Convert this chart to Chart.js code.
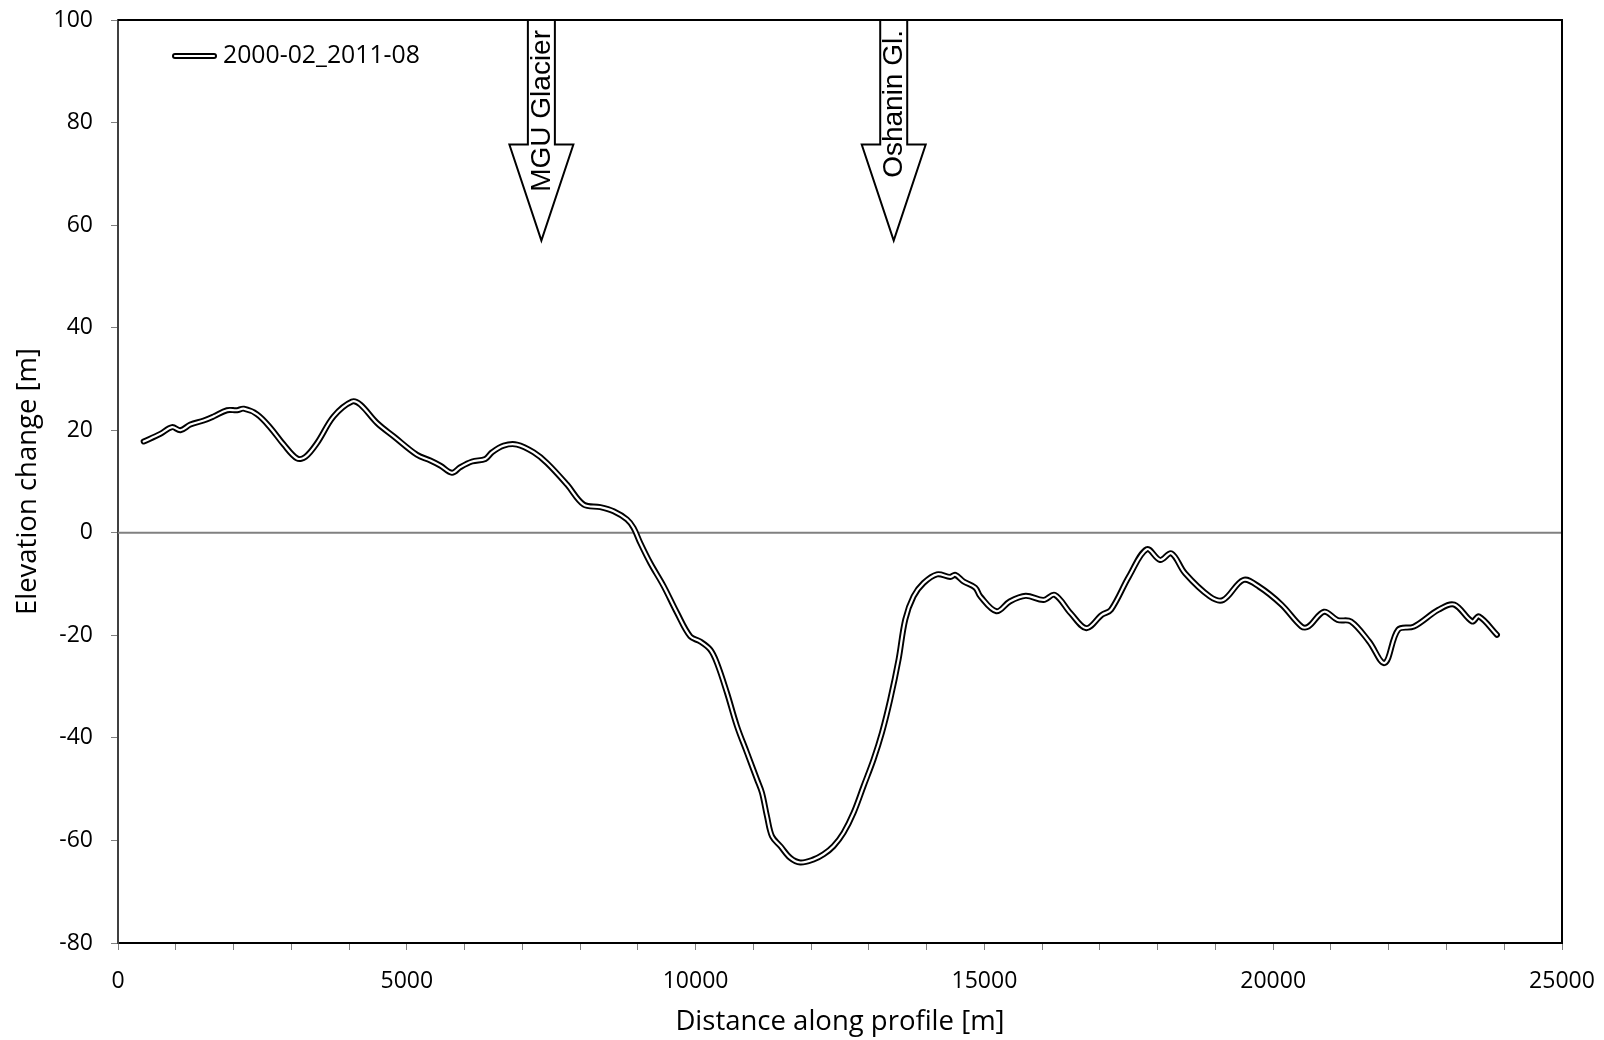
<!DOCTYPE html>
<html>
<head>
<meta charset="utf-8">
<script src="https://cdn.jsdelivr.net/npm/chart.js@4.4.1/dist/chart.umd.min.js"></script>
<style>
  html, body { margin: 0; padding: 0; background: #ffffff; }
  #wrap { width: 1604px; height: 1040px; position: relative; }
</style>
</head>
<body>
<div id="wrap"><canvas id="profile" width="1604" height="1040"></canvas></div>
<script>
// Elevation change along the profile (distance in metres, change in metres)
const distance = [
  445, 734, 936, 1080, 1253, 1484, 1657, 1888, 2062, 2176,
  2408, 2638, 2869, 3100, 3244, 3446, 3734, 4052, 4196, 4485,
  4773, 5177, 5408, 5581, 5783, 5927, 6130, 6360, 6476, 6677,
  6908, 7196, 7428, 7774, 8062, 8350, 8581, 8812, 8927, 9043,
  9216, 9447, 9678, 9908, 10081, 10254, 10370, 10543, 10716, 10890,
  11063, 11149, 11236, 11323, 11467, 11640, 11813, 12043, 12216, 12389,
  12562, 12735, 12908, 13081, 13226, 13370, 13514, 13630, 13774, 13947,
  14179, 14409, 14496, 14640, 14842, 14929, 15209, 15439, 15715, 16023,
  16218, 16493, 16765, 17033, 17192, 17504, 17812, 18042, 18237, 18474,
  18901, 19133, 19483, 19754, 20143, 20492, 20609, 20880, 21114, 21346,
  21659, 21930, 22164, 22434, 22863, 23134, 23445, 23562, 23874
];
const elevationChange = [
  17.8, 19.3, 20.6, 20.0, 21.1, 21.9, 22.7, 23.9, 23.9, 24.2,
  23.1, 20.5, 17.2, 14.5, 14.8, 17.5, 22.7, 25.6, 25.0, 21.4,
  18.8, 15.2, 14.1, 13.1, 11.7, 12.8, 13.9, 14.4, 15.7, 17.0,
  17.2, 15.7, 13.6, 9.4, 5.5, 5.0, 4.2, 2.6, 0.95, -2.0,
  -5.9, -10.4, -15.6, -20.2, -21.2, -22.8, -25.4, -31.2, -37.7, -42.9,
  -48.1, -50.7, -55.3, -59.2, -61.1, -63.4, -64.3, -63.7, -62.7, -61.1,
  -58.5, -54.6, -49.4, -44.2, -39.0, -32.5, -24.7, -16.9, -12.4, -9.8,
  -8.1, -8.6, -8.2, -9.5, -10.7, -12.4, -15.3, -13.4, -12.3, -13.1,
  -12.1, -15.7, -18.6, -16.0, -15.0, -8.5, -3.2, -5.3, -4.0, -7.9,
  -12.4, -13.1, -9.2, -10.5, -14.0, -18.3, -18.3, -15.4, -17.0, -17.3,
  -21.2, -25.4, -18.9, -18.3, -15.0, -14.0, -17.3, -16.3, -19.9
];
const seriesLabel = '2000-02_2011-08';

// Glaciers crossed by the profile
const glacierNames = ['MGU Glacier', 'Oshanin Gl.'];
const glacierDistance = [7330, 13430];
const glacierArrowTip = [57, 57];

// Axis ticks
const xTickValues = [0, 5000, 10000, 15000, 20000, 25000];
const yTickValues = [-80, -60, -40, -20, 0, 20, 40, 60, 80, 100];

const points = distance.map((d, i) => ({ x: d, y: elevationChange[i] }));
const FONT = '"Open Sans", Lato, sans-serif';

// Plot frame, zero line and legend entry
const framePlugin = {
  id: 'frame',
  beforeDatasetsDraw(chart) {
    const { ctx, chartArea: a, scales: { y } } = chart;
    ctx.save();
    const y0 = y.getPixelForValue(0);
    ctx.strokeStyle = '#808080';
    ctx.lineWidth = 2;
    ctx.beginPath();
    ctx.moveTo(a.left, y0);
    ctx.lineTo(a.right, y0);
    ctx.stroke();
    ctx.restore();
  },
  afterDraw(chart) {
    const { ctx, chartArea: a } = chart;
    ctx.save();
    ctx.strokeStyle = '#000000';
    ctx.lineWidth = 2;
    ctx.beginPath();
    ctx.moveTo(a.left, a.top);
    ctx.lineTo(a.right, a.top);
    ctx.lineTo(a.right, a.bottom);
    ctx.stroke();

    // legend: double line + label
    const lx0 = a.left + 57, lx1 = a.left + 96, ly = a.top + 36;
    ctx.lineCap = 'round';
    ctx.strokeStyle = '#000000';
    ctx.lineWidth = 6;
    ctx.beginPath(); ctx.moveTo(lx0, ly); ctx.lineTo(lx1, ly); ctx.stroke();
    ctx.strokeStyle = '#ffffff';
    ctx.lineWidth = 2.2;
    ctx.beginPath(); ctx.moveTo(lx0, ly); ctx.lineTo(lx1, ly); ctx.stroke();
    ctx.fillStyle = '#000000';
    ctx.font = '24.8px ' + FONT;
    ctx.textAlign = 'left';
    ctx.textBaseline = 'middle';
    ctx.fillText(seriesLabel, lx1 + 9, ly);
    ctx.restore();
  }
};

// Downward arrows marking the glaciers
const arrowPlugin = {
  id: 'glacierArrows',
  afterDraw(chart) {
    const { ctx, chartArea: a, scales: { x, y } } = chart;
    const bodyHalf = 13.5, headHalf = 32, headLen = 96;
    ctx.save();
    glacierNames.forEach((name, i) => {
      const cx = x.getPixelForValue(glacierDistance[i]);
      const tip = y.getPixelForValue(glacierArrowTip[i]);
      const neck = tip - headLen;
      const top = a.top;
      ctx.beginPath();
      ctx.moveTo(cx - bodyHalf, top);
      ctx.lineTo(cx + bodyHalf, top);
      ctx.lineTo(cx + bodyHalf, neck);
      ctx.lineTo(cx + headHalf, neck);
      ctx.lineTo(cx, tip);
      ctx.lineTo(cx - headHalf, neck);
      ctx.lineTo(cx - bodyHalf, neck);
      ctx.closePath();
      ctx.fillStyle = '#ffffff';
      ctx.fill();
      ctx.lineWidth = 2;
      ctx.lineJoin = 'miter';
      ctx.strokeStyle = '#000000';
      ctx.stroke();

      ctx.save();
      ctx.translate(cx + 1, top + 10);
      ctx.rotate(-Math.PI / 2);
      ctx.fillStyle = '#000000';
      ctx.font = '28px "Liberation Sans", Arial, sans-serif';
      ctx.textAlign = 'right';
      ctx.textBaseline = 'middle';
      ctx.fillText(name, 0, 0);
      ctx.restore();
    });
    ctx.restore();
  }
};

new Chart(document.getElementById('profile'), {
  type: 'line',
  data: {
    datasets: [
      {
        label: seriesLabel,
        data: points,
        order: 2,
        borderColor: '#000000',
        borderWidth: 6,
        borderCapStyle: 'round',
        borderJoinStyle: 'round',
        pointRadius: 0,
        tension: 0.35,
        fill: false
      },
      {
        label: seriesLabel + ' core',
        data: points,
        order: 1,
        borderColor: '#ffffff',
        borderWidth: 2.2,
        borderCapStyle: 'round',
        borderJoinStyle: 'round',
        pointRadius: 0,
        tension: 0.35,
        fill: false
      }
    ]
  },
  options: {
    responsive: false,
    animation: false,
    devicePixelRatio: 1,
    layout: { padding: { top: 20, right: 42, left: 0, bottom: 0 } },
    plugins: {
      legend: { display: false },
      tooltip: { enabled: false }
    },
    scales: {
      x: {
        type: 'linear',
        min: 0,
        max: 25000,
        afterFit(scale) {
          scale.height = 97;
          scale.paddingLeft = 0;
          scale.paddingRight = 0;
        },
        afterBuildTicks(scale) {
          const t = [];
          for (let v = 0; v <= 25000; v += 1000) t.push({ value: v });
          scale.ticks = t;
        },
        ticks: {
          autoSkip: false,
          maxRotation: 0,
          padding: 18,
          color: '#000000',
          font: { family: FONT, size: 23 },
          callback: (v) => (xTickValues.includes(v) ? String(v) : '')
        },
        grid: {
          drawOnChartArea: false,
          drawTicks: true,
          tickLength: 7,
          tickColor: '#7f7f7f',
          tickWidth: 1
        },
        border: { color: '#000000', width: 2 },
        title: {
          display: true,
          text: 'Distance along profile [m]',
          color: '#000000',
          font: { family: FONT, size: 27.5 },
          padding: { top: 0, bottom: 1 }
        }
      },
      y: {
        type: 'linear',
        min: -80,
        max: 100,
        afterFit(scale) {
          scale.width = 118;
          scale.paddingTop = 0;
          scale.paddingBottom = 0;
        },
        afterBuildTicks(scale) {
          scale.ticks = yTickValues.map(v => ({ value: v }));
        },
        ticks: {
          padding: 18,
          color: '#000000',
          font: { family: FONT, size: 23 },
          callback: (v) => String(v)
        },
        grid: {
          drawOnChartArea: false,
          drawTicks: true,
          tickLength: 7,
          tickColor: '#7f7f7f',
          tickWidth: 1
        },
        border: { color: '#404040', width: 2 },
        title: {
          display: true,
          text: 'Elevation change [m]',
          color: '#000000',
          font: { family: FONT, size: 27.5 },
          padding: { top: 12, bottom: 0 }
        }
      }
    }
  },
  plugins: [framePlugin, arrowPlugin]
});
</script>
</body>
</html>
